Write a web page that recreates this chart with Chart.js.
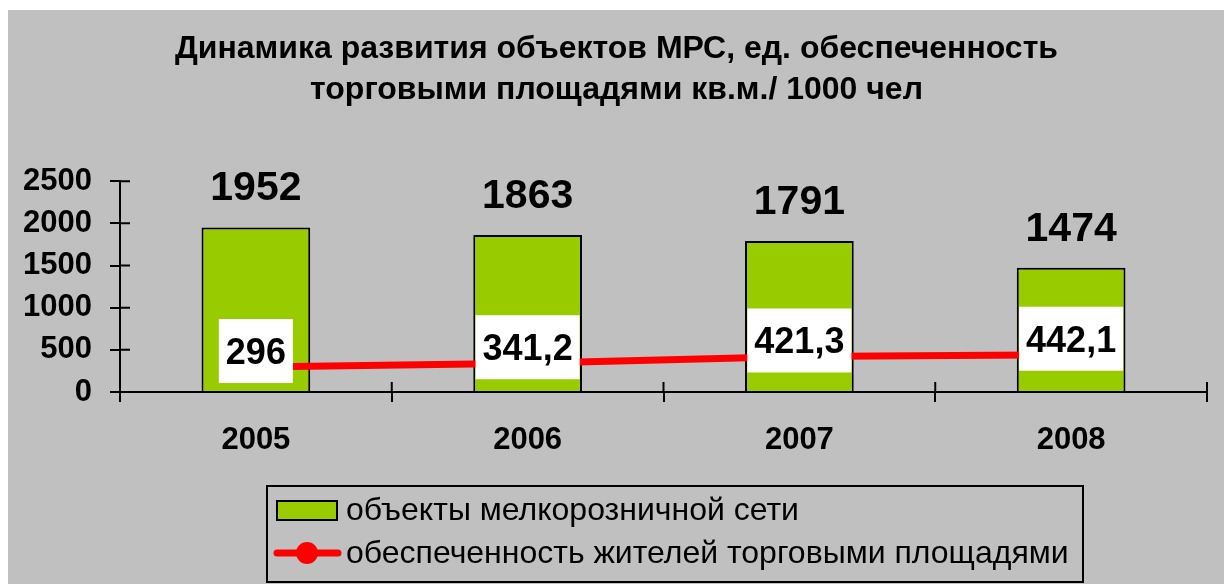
<!DOCTYPE html>
<html>
<head>
<meta charset="utf-8">
<script src="https://cdn.jsdelivr.net/npm/chart.js@4.4.1/dist/chart.umd.min.js"></script>
<style>
html,body{margin:0;background:#fff}
#wrap{width:1225px;height:584px;position:relative}
</style>
</head>
<body>
<div id="wrap"><canvas id="ch"></canvas></div>
<script>
const years = ['2005', '2006', '2007', '2008'];
const objects = [1952, 1863, 1791, 1474];
const supply = [296, 341.2, 421.3, 442.1];
const yTicks = [0, 500, 1000, 1500, 2000, 2500];
const titleLines = ['Динамика развития объектов МРС, ед. обеспеченность', 'торговыми площадями кв.м./ 1000 чел'];
const seriesNames = ['объекты мелкорозничной сети', 'обеспеченность жителей торговыми площадями'];

const FONT = '"Liberation Sans", Arial, sans-serif';
const fmt = v => String(v).replace('.', ',');

// white page with grey chart panel
const bg = {
  id: 'bg',
  beforeDraw(c){
    const ctx = c.ctx; ctx.save();
    ctx.fillStyle = '#fff'; ctx.fillRect(0, 0, c.width, c.height);
    ctx.fillStyle = '#C0C0C0'; ctx.fillRect(8, 10, 1216, 574);
    ctx.restore();
  }
};

// excel style ticks that cross the axis
const crossTicks = {
  id: 'crossTicks',
  afterDraw(c){
    const { ctx, scales: { x, y } } = c;
    ctx.save(); ctx.strokeStyle = '#000'; ctx.lineWidth = 2; ctx.beginPath();
    y.ticks.forEach(t => { const py = y.getPixelForValue(t.value); ctx.moveTo(x.left, py); ctx.lineTo(x.left + 10, py); });
    for (let i = 0; i <= years.length; i++) { const px = x.getPixelForValue(i - 0.5); ctx.moveTo(px, y.bottom); ctx.lineTo(px, y.bottom - 10); }
    ctx.stroke(); ctx.restore();
  }
};

const valueLabels = {
  id: 'valueLabels',
  afterDatasetsDraw(c){
    const ctx = c.ctx; ctx.save();
    ctx.textAlign = 'center'; ctx.textBaseline = 'alphabetic'; ctx.fillStyle = '#000';
    ctx.font = 'bold 41px ' + FONT;
    c.getDatasetMeta(0).data.forEach((b, i) => ctx.fillText(fmt(objects[i]), b.x, b.y - 27));
    ctx.font = 'bold 36px ' + FONT;
    c.getDatasetMeta(1).data.forEach((p, i) => {
      const s = fmt(supply[i]); const w = ctx.measureText(s).width + 14; const cy = p.y - 16;
      ctx.fillStyle = '#fff'; ctx.fillRect(p.x - w / 2, cy - 32, w, 64);
      ctx.fillStyle = '#000'; ctx.fillText(s, p.x, cy + 13);
    });
    ctx.restore();
  }
};

const legendBox = {
  id: 'legendBox',
  afterDraw(c){
    const ctx = c.ctx; const ds = c.data.datasets; ctx.save();
    ctx.strokeStyle = '#000'; ctx.lineWidth = 2; ctx.strokeRect(267, 486, 816, 96);
    // bar swatch
    ctx.fillStyle = ds[0].backgroundColor; ctx.fillRect(277, 501, 60, 19); ctx.strokeRect(277, 501, 60, 19);
    // line swatch
    ctx.strokeStyle = ds[1].borderColor; ctx.lineWidth = 7; ctx.lineCap = 'round';
    ctx.beginPath(); ctx.moveTo(277, 553); ctx.lineTo(338, 553); ctx.stroke();
    ctx.fillStyle = ds[1].borderColor; ctx.beginPath(); ctx.arc(307, 553, 11, 0, Math.PI * 2); ctx.fill();
    ctx.fillStyle = '#000'; ctx.font = '32px ' + FONT; ctx.textAlign = 'left'; ctx.textBaseline = 'middle';
    ctx.fillText(ds[0].label, 346, 511);
    ctx.fillText(ds[1].label, 346, 554);
    ctx.restore();
  }
};

const tickFont = { family: FONT, size: 31, weight: 'bold' };

new Chart(document.getElementById('ch'), {
  data: {
    labels: years,
    datasets: [
      { type: 'bar', label: seriesNames[0], data: objects, backgroundColor: '#99CC00', borderColor: '#000', borderWidth: 2,
        barPercentage: 0.4, categoryPercentage: 1, order: 2 },
      { type: 'line', label: seriesNames[1], data: supply, borderColor: '#FF0000', backgroundColor: '#FF0000', borderWidth: 7,
        pointRadius: 8, order: 1 }
    ]
  },
  options: {
    responsive: true, maintainAspectRatio: false, animation: false,
    layout: { padding: { left: 8, right: 0, top: 0, bottom: 0 } },
    plugins: {
      legend: { display: false },
      tooltip: { enabled: false },
      title: { display: true, text: titleLines, color: '#000',
        font: { family: FONT, size: 32, weight: 'bold', lineHeight: 1.3 }, padding: { top: 28, bottom: 70 } }
    },
    scales: {
      x: {
        grid: { drawOnChartArea: false, tickLength: 10, color: '#000', lineWidth: 2, offset: true },
        border: { color: '#000', width: 2 },
        ticks: { color: '#000', font: tickFont, padding: 20 },
        afterFit(s){ s.height = 192; }
      },
      y: {
        min: 0, max: 2500,
        afterBuildTicks(s){ s.ticks = yTicks.map(v => ({ value: v })); },
        grid: { drawOnChartArea: false, tickLength: 10, color: '#000', lineWidth: 2 },
        border: { color: '#000', width: 2 },
        ticks: { color: '#000', font: tickFont, padding: 18, callback: v => String(v) },
        afterFit(s){ s.width = 112; }
      },
      y2: {
        position: 'right', display: true,
        grid: { display: false }, border: { display: false }, ticks: { display: false },
        afterFit(s){ s.width = 18; }
      }
    }
  },
  plugins: [bg, crossTicks, valueLabels, legendBox]
});
</script>
</body>
</html>
